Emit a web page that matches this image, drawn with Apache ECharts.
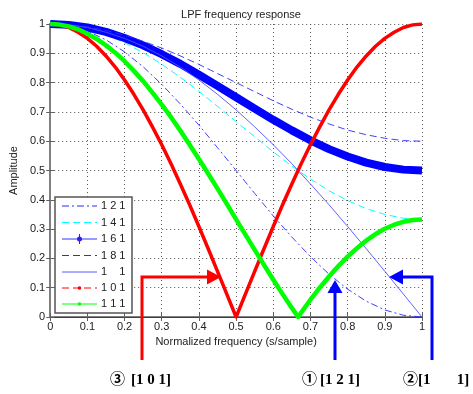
<!DOCTYPE html>
<html>
<head>
<meta charset="utf-8">
<script src="https://cdn.jsdelivr.net/npm/echarts@6/dist/echarts.min.js"></script>
<style>html,body{margin:0;padding:0;background:#fff;}#c{width:473px;height:394px;}</style>
</head>
<body>
<div id="c"></div>
<script>
// Normalized frequency samples
const freq = [0,0.05,0.1,0.15,0.2,0.25,0.3,0.35,0.4,0.45,0.5,0.55,0.6,0.65,0.7,0.75,0.8,0.85,0.9,0.95,1];
const freqFine = [0,0.025,0.05,0.075,0.1,0.125,0.15,0.175,0.2,0.225,0.25,0.275,0.3,0.325,0.35,0.375,0.4,0.425,0.45,0.475,0.5,0.525,0.55,0.575,0.6,0.625,0.65,0.675,0.7,0.725,0.75,0.775,0.8,0.825,0.85,0.875,0.9,0.925,0.95,0.975,1];
const freq111 = [0,0.025,0.05,0.075,0.1,0.125,0.15,0.175,0.2,0.225,0.25,0.275,0.3,0.325,0.35,0.375,0.4,0.425,0.45,0.475,0.5,0.525,0.55,0.575,0.6,0.625,0.65,0.667,0.675,0.7,0.725,0.75,0.775,0.8,0.825,0.85,0.875,0.9,0.925,0.95,0.975,1];
// Amplitudes
const h121 = [1,0.994,0.976,0.946,0.905,0.854,0.794,0.727,0.655,0.578,0.5,0.422,0.345,0.273,0.206,0.146,0.095,0.054,0.024,0.006,0];
const h141 = [1,0.996,0.984,0.964,0.936,0.902,0.863,0.818,0.770,0.719,0.667,0.615,0.564,0.515,0.471,0.431,0.397,0.370,0.350,0.337,0.333];
const h161 = [1,0.997,0.988,0.973,0.952,0.927,0.897,0.864,0.827,0.789,0.75,0.711,0.673,0.637,0.603,0.573,0.548,0.527,0.512,0.503,0.5];
const h181 = [1,0.998,0.990,0.978,0.962,0.941,0.918,0.891,0.862,0.831,0.8,0.769,0.738,0.709,0.682,0.659,0.638,0.622,0.610,0.602,0.6];
const h11  = [1,0.997,0.988,0.972,0.951,0.924,0.891,0.853,0.809,0.760,0.707,0.649,0.588,0.523,0.454,0.383,0.309,0.233,0.156,0.078,0];
const h101 = [1,0.997,0.988,0.972,0.951,0.924,0.891,0.853,0.809,0.760,0.707,0.649,0.588,0.523,0.454,0.383,0.309,0.233,0.156,0.078,0,
              0.078,0.156,0.233,0.309,0.383,0.454,0.523,0.588,0.649,0.707,0.760,0.809,0.853,0.891,0.924,0.951,0.972,0.988,0.997,1];
const h111 = [1,0.998,0.992,0.982,0.967,0.949,0.927,0.902,0.873,0.840,0.805,0.766,0.725,0.682,0.636,0.588,0.539,0.489,0.438,0.386,0.333,
              0.281,0.229,0.178,0.127,0.078,0.031,0,0.015,0.059,0.100,0.138,0.174,0.206,0.235,0.261,0.283,0.301,0.315,0.325,0.331,0.333];
const legendLabels = ['1 2 1','1 4 1','1 6 1','1 8 1','1    1','1 0 1','1 1 1'];

const pair = (xs, ys) => xs.map((x, i) => [x, ys[i]]);
const FONT = '"Liberation Sans", Arial, sans-serif';
const chart = echarts.init(document.getElementById('c'), null, {renderer: 'canvas'});

const styles = [
  {color: '#2a2aff', width: 0.9, type: [7, 3, 2, 3]},
  {color: '#00ffff', width: 1, type: [7, 4]},
  {color: '#0000ff', width: 8, type: 'solid'},
  {color: '#2a2aff', width: 0.9, type: [7, 4]},
  {color: '#5050ff', width: 0.9, type: 'solid'},
  {color: '#ff0000', width: 3.5, type: 'solid'},
  {color: '#00ff00', width: 4.5, type: 'solid'}
];
const datas = [pair(freq,h121), pair(freq,h141), pair(freq,h161), pair(freq,h181), pair(freq,h11), pair(freqFine,h101), pair(freq111,h111)];

const series = datas.map((d, i) => ({
  type: 'line', name: legendLabels[i], data: d, showSymbol: false, symbol: 'none',
  smooth: false, silent: true, animation: false,
  lineStyle: {color: styles[i].color, width: styles[i].width, type: styles[i].type, cap: 'butt', join: 'round'},
  z: 2 + i
}));

const axisCommon = {
  type: 'value', min: 0, max: 1, interval: 0.1,
  axisLine: {show: true, lineStyle: {color: '#808080', width: 2}},
  axisTick: {show: true, inside: true, length: 4, lineStyle: {color: '#606060'}},
  axisLabel: {color: '#222', fontSize: 11, fontFamily: FONT},
  splitLine: {show: false}
};

// Legend graphics
const lg = [];
const lx = 55, ly = 197, lw = 77, lh = 116;
lg.push({type: 'rect', shape: {x: lx, y: ly, width: lw, height: lh}, style: {fill: '#fff', stroke: '#555', lineWidth: 1.5}, z: 100});
const rowY = [206, 222.5, 239, 255.5, 272, 288, 304];
const legLine = [
  {color: '#2a2aff', dash: [7,3,2,3], mark: null},
  {color: '#00ffff', dash: [7,4], mark: null},
  {color: '#3333ff', dash: null, mark: 'star'},
  {color: '#2a2aff', dash: [7,4], mark: null},
  {color: '#5a5aff', dash: null, mark: null},
  {color: '#ff0000', dash: [7,4], mark: 'dot'},
  {color: '#00ff00', dash: null, mark: 'dot'}
];
rowY.forEach((y, i) => {
  lg.push({type: 'line', shape: {x1: 62, y1: y, x2: 97, y2: y}, style: {stroke: legLine[i].color, lineWidth: 1, lineDash: legLine[i].dash}, z: 101});
  if (legLine[i].mark === 'star') {
    lg.push({type: 'circle', shape: {cx: 79.5, cy: y, r: 2.5}, style: {fill: '#2222ff'}, z: 102});
    lg.push({type: 'line', shape: {x1: 79.5, y1: y - 5, x2: 79.5, y2: y + 5}, style: {stroke: '#2222ff', lineWidth: 1}, z: 102});
  } else if (legLine[i].mark === 'dot') {
    lg.push({type: 'circle', shape: {cx: 79.5, cy: y, r: 1.8}, style: {fill: legLine[i].color}, z: 102});
  }
  lg.push({type: 'text', x: 101, y: y, style: {text: legendLabels[i], fill: '#222', font: '11px ' + FONT, textVerticalAlign: 'middle', textAlign: 'left'}, z: 102});
});

// Annotation arrows and labels
const CIRC = 'bold 15px "Noto Sans CJK JP", "DejaVu Sans", sans-serif';
const SER = 'bold 15px "Liberation Serif", "Times New Roman", serif';
const ann = [
  {type: 'polyline', shape: {points: [[142, 360], [142, 277], [209, 277]]}, style: {stroke: '#ff0000', lineWidth: 3, fill: null}, z: 110},
  {type: 'polygon', shape: {points: [[207, 269.5], [207, 284.5], [221, 277]]}, style: {fill: '#ff0000'}, z: 110},
  {type: 'line', shape: {x1: 335, y1: 360, x2: 335, y2: 292}, style: {stroke: '#0000ff', lineWidth: 3}, z: 110},
  {type: 'polygon', shape: {points: [[327.5, 293], [342.5, 293], [335, 280]]}, style: {fill: '#0000ff'}, z: 110},
  {type: 'polyline', shape: {points: [[432, 360], [432, 277], [401, 277]]}, style: {stroke: '#0000ff', lineWidth: 3, fill: null}, z: 110},
  {type: 'polygon', shape: {points: [[403, 269.5], [403, 284.5], [389, 277]]}, style: {fill: '#0000ff'}, z: 110},
  {type: 'text', x: 110, y: 378.5, style: {text: '③', fill: '#000', font: CIRC, textVerticalAlign: 'middle'}, z: 110},
  {type: 'text', x: 131, y: 380, style: {text: '[1 0 1]', fill: '#000', font: SER, textVerticalAlign: 'middle'}, z: 110},
  {type: 'text', x: 302, y: 378.5, style: {text: '①', fill: '#000', font: CIRC, textVerticalAlign: 'middle'}, z: 110},
  {type: 'text', x: 320, y: 380, style: {text: '[1 2 1]', fill: '#000', font: SER, textVerticalAlign: 'middle'}, z: 110},
  {type: 'text', x: 403, y: 378.5, style: {text: '②', fill: '#000', font: CIRC, textVerticalAlign: 'middle'}, z: 110},
  {type: 'text', x: 418, y: 380, style: {text: '[1       1]', fill: '#000', font: SER, textVerticalAlign: 'middle'}, z: 110}
];

chart.setOption({
  animation: false,
  backgroundColor: '#fff',
  title: {text: 'LPF frequency response', left: 236, textAlign: 'center', top: 4,
    textStyle: {fontSize: 11, fontWeight: 'normal', color: '#222', fontFamily: FONT}},
  grid: {left: 50, right: 51, top: 24, bottom: 77, containLabel: false},
  xAxis: [
    Object.assign({}, axisCommon, {
      position: 'bottom', name: 'Normalized frequency (s/sample)', nameLocation: 'middle', nameGap: 18,
      nameTextStyle: {color: '#222', fontSize: 11, fontFamily: FONT},
      axisLabel: {color: '#222', fontSize: 11, fontFamily: FONT, margin: 4},
      splitLine: {show: true, lineStyle: {color: '#555', width: 1, type: [1, 3]}}
    }),
    Object.assign({}, axisCommon, {position: 'top', axisLabel: {show: false}, axisLine: {show: true, lineStyle: {color: '#404040', width: 1}}})
  ],
  yAxis: [
    Object.assign({}, axisCommon, {
      position: 'left', name: 'Amplitude', nameLocation: 'middle', nameGap: 28,
      nameTextStyle: {color: '#222', fontSize: 11, fontFamily: FONT},
      axisLabel: {color: '#222', fontSize: 11, fontFamily: FONT, margin: 5},
      splitLine: {show: true, lineStyle: {color: '#555', width: 1, type: [1, 3]}}
    }),
    Object.assign({}, axisCommon, {position: 'right', axisLabel: {show: false}})
  ],
  series: series,
  graphic: lg.concat(ann)
});
</script>
</body>
</html>
